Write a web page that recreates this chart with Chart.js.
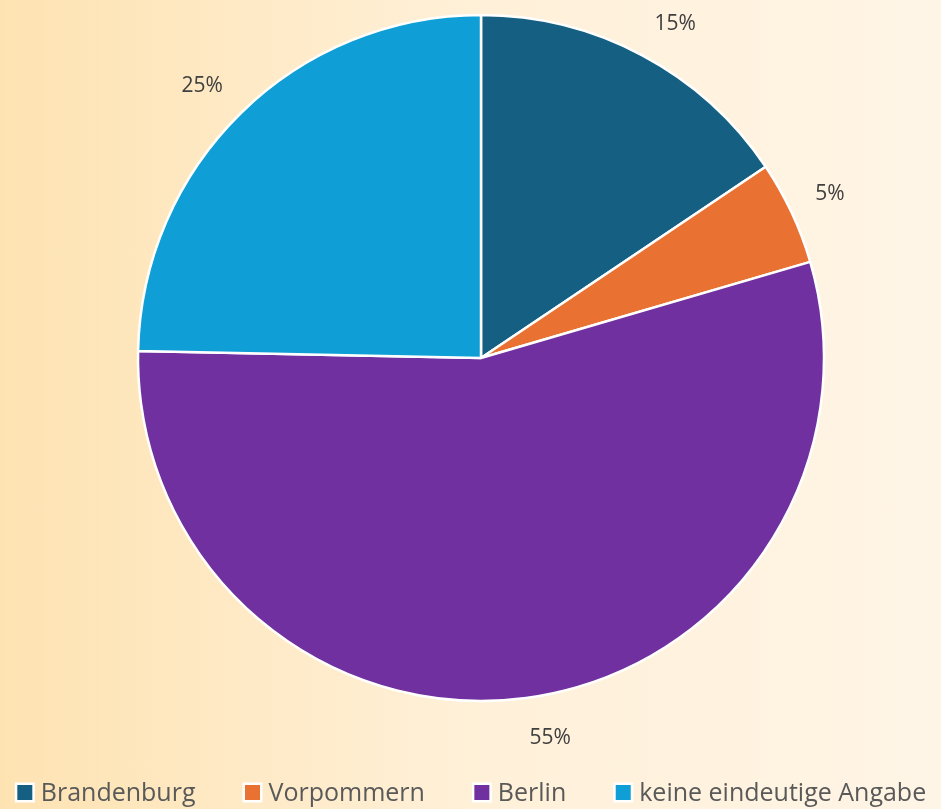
<!DOCTYPE html>
<html>
<head>
<meta charset="utf-8">
<script src="https://cdn.jsdelivr.net/npm/chart.js@4"></script>
<style>
  html, body { margin: 0; padding: 0; }
  body { background: #fff; }
  #wrap {
    width: 941px; height: 809px; position: relative;
    background: linear-gradient(to right, #fee3b2 0%, #fff0d8 50%, #fff5e6 100%);
  }
</style>
</head>
<body>
<div id="wrap"><canvas id="pieChart"></canvas></div>
<script>
const regions = ['Brandenburg', 'Vorpommern', 'Berlin', 'keine eindeutige Angabe'];
const shares = [15.6, 4.9, 54.9, 24.7];
const percentLabels = ['15%', '5%', '55%', '25%'];
const sliceColors = ['#156082', '#e97132', '#7030a0', '#0f9ed5'];

// Prozentangaben außerhalb der Segmente (Ecke des Textfelds am Radius ausrichten)
const outsideLabels = {
  id: 'outsideLabels',
  afterDatasetsDraw(chart) {
    const ctx = chart.ctx;
    const meta = chart.getDatasetMeta(0);
    ctx.save();
    ctx.font = '21px "Open Sans", sans-serif';
    ctx.fillStyle = '#404040';
    ctx.textAlign = 'center';
    ctx.textBaseline = 'middle';
    meta.data.forEach((arc, i) => {
      const p = arc.getProps(['x', 'y', 'startAngle', 'endAngle', 'outerRadius'], true);
      const mid = (p.startAngle + p.endAngle) / 2;
      const r = p.outerRadius + 26;
      const cx = Math.cos(mid), cy = Math.sin(mid);
      const w = ctx.measureText(percentLabels[i]).width, h = 22;
      const lx = p.x + cx * r + Math.sign(cx) * w / 2;
      const ly = p.y + cy * r + Math.sign(cy) * h / 2 + 3;
      ctx.fillText(percentLabels[i], lx, ly);
    });
    ctx.restore();
  }
};

// Legende unten, wie im Original (Kästchen mit weißem Rand)
const bottomLegend = {
  id: 'bottomLegend',
  afterDraw(chart) {
    const ctx = chart.ctx;
    const boxSize = 15, border = 2.5, textGap = 6, itemGap = 47;
    const y = 792.5;
    ctx.save();
    ctx.font = '25px "Open Sans", sans-serif';
    const widths = regions.map(t => ctx.measureText(t).width);
    const outer = boxSize + 2 * border;
    const total = widths.reduce((s, w) => s + outer + textGap + w, 0) + itemGap * (regions.length - 1);
    let x = (chart.width - total) / 2;
    ctx.textBaseline = 'middle';
    ctx.textAlign = 'left';
    regions.forEach((name, i) => {
      ctx.fillStyle = '#ffffff';
      ctx.fillRect(x, y - outer / 2, outer, outer);
      ctx.fillStyle = sliceColors[i];
      ctx.fillRect(x + border, y - boxSize / 2, boxSize, boxSize);
      ctx.fillStyle = '#595959';
      ctx.fillText(name, x + outer + textGap, y + 1);
      x += outer + textGap + widths[i] + itemGap;
    });
    ctx.restore();
  }
};

const ctx = document.getElementById('pieChart').getContext('2d');
new Chart(ctx, {
  type: 'pie',
  data: {
    labels: regions,
    datasets: [{
      data: shares,
      backgroundColor: sliceColors,
      borderColor: '#ffffff',
      borderWidth: 2.5,
      hoverOffset: 0
    }]
  },
  options: {
    responsive: true,
    maintainAspectRatio: false,
    animation: false,
    radius: 343,
    layout: { padding: { top: 0, bottom: 93, left: 21, right: 0 } },
    plugins: {
      legend: { display: false },
      tooltip: { enabled: false }
    }
  },
  plugins: [outsideLabels, bottomLegend]
});
</script>
</body>
</html>
